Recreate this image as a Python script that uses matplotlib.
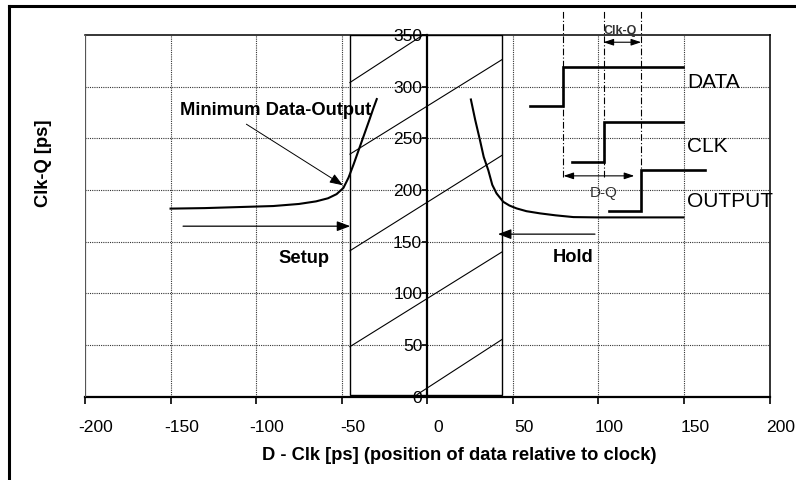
import matplotlib
matplotlib.use("Agg")
import matplotlib.pyplot as plt
from matplotlib.patches import Rectangle
from matplotlib.lines import Line2D
from matplotlib.transforms import ScaledTranslation

plt.rcParams['font.family'] = ['Liberation Sans', 'DejaVu Sans']

# ---- data ----
x_ticks = [-200, -150, -100, -50, 0, 50, 100, 150, 200]
y_ticks = [0, 50, 100, 150, 200, 250, 300, 350]

setup_x = [-150, -130, -110, -90, -75, -65, -58, -53, -49, -46, -43, -40, -37, -34, -31.5, -29.5]
setup_y = [182, 182.5, 183.5, 184.5, 186.5, 189, 192, 196, 202, 212, 225, 239, 253, 267, 279, 288]

hold_x = [25.5, 28, 30.8, 33, 35.7, 38, 40.5, 44.4, 48, 52.2, 58, 65.9, 75, 85.4, 100, 120, 149.7]
hold_y = [287.6, 268, 248.3, 232, 219, 205, 196.7, 188.6, 185, 182.2, 179.5, 177.4, 175.5, 173.8, 173.5, 173.5, 173.5]

# forbidden window (setup/hold)
window_x = [-45.2, 43.8]
window_y = [2, 350]
hatch_lines = [
    ([-6, 43.8], [2, 55.5]),
    ([-45.2, 43.8], [48.4, 140.2]),
    ([-45.2, 43.8], [141.2, 233.7]),
    ([-45.2, 43.8], [234.7, 326.3]),
    ([-45.2, -2.5], [304, 350]),
]

# timing diagram
data_wave_x = [59.8, 79.6, 79.6, 149.3]
data_wave_y = [281, 281, 319, 319]
clk_wave_x = [84.4, 103, 103, 149.3]
clk_wave_y = [226.7, 226.7, 265.4, 265.4]
out_wave_x = [106.4, 125, 125, 162.3]
out_wave_y = [179.9, 179.9, 219.2, 219.2]
edge_x = [79.6, 103, 125]
edge_y = [213, 374]

# ---- figure ----
fig = plt.figure(figsize=(7.96, 4.80), dpi=100)
ax = fig.add_axes([85/796, 1-396.7/480, (769.5-85)/796, (396.7-35)/480])
ax.set_xlim(-200, 200)
ax.set_ylim(0, 350)

ax.set_xticks(x_ticks)
ax.set_yticks(y_ticks)
ax.set_xticklabels([str(v) for v in x_ticks])
ax.set_yticklabels([str(v) for v in y_ticks])

# spines
ax.spines['left'].set_position(('data', 0))
ax.spines['left'].set_linewidth(1.6)
ax.spines['bottom'].set_linewidth(1.6)
ax.spines['top'].set_linewidth(1.1)
ax.spines['right'].set_linewidth(1.4)
ax.spines['right'].set_color('#333333')
ax.axvline(-200, color='#555555', lw=1.6, zorder=3)

# grid
for xv in x_ticks[1:-1]:
    if xv != 0:
        ax.axvline(xv, color='#333333', lw=0.8, ls=(0, (1, 1)), zorder=0)
for yv in y_ticks[1:-1]:
    ax.axhline(yv, color='#333333', lw=0.8, ls=(0, (1, 1)), zorder=0)

ax.tick_params(axis='x', direction='out', length=5, width=1.2, pad=12, labelsize=12.6)
ax.tick_params(axis='y', direction='out', length=3.6, width=1.2, pad=0, labelsize=12.6)
for lab in ax.get_xticklabels():
    lab.set_transform(lab.get_transform() + ScaledTranslation(0.11, 0, fig.dpi_scale_trans))

# window rectangle with diagonals
ax.add_patch(Rectangle((window_x[0], window_y[0]), window_x[1]-window_x[0], window_y[1]-window_y[0],
                       fill=False, edgecolor='black', lw=1.0, zorder=2))
for lx, ly in hatch_lines:
    ax.plot(lx, ly, color='black', lw=0.8, zorder=2)

# curves
ax.plot(setup_x, setup_y, color='black', lw=1.5, zorder=4)
ax.plot(hold_x, hold_y, color='black', lw=1.5, zorder=4)

# arrows
arrow_kw = dict(arrowstyle='-|>,head_length=0.8,head_width=0.3', color='black', lw=0.9,
                shrinkA=0, shrinkB=0)
ax.annotate('', xy=(-45, 165), xytext=(-142.7, 165), arrowprops=arrow_kw)
ax.annotate('', xy=(41.3, 157.3), xytext=(98, 157.3), arrowprops=arrow_kw)
ax.annotate('', xy=(-49.3, 204.6), xytext=(-105.7, 263.7),
            arrowprops=dict(arrowstyle='-|>,head_length=0.8,head_width=0.3', color='black',
                            lw=0.7, shrinkA=0, shrinkB=0))

# labels in plot
bold = dict(fontsize=13.2, fontweight='bold')
ax.text(-144.4, 277, 'Minimum Data-Output', ha='left', va='center', **bold)
ax.text(-72, 133.7, 'Setup', ha='center', va='center', **bold)
ax.text(85, 134.8, 'Hold', ha='center', va='center', **bold)

# timing diagram
for ex in edge_x:
    ax.plot([ex, ex], edge_y, color='black', lw=0.8, ls=(0, (6, 2, 1, 2)), clip_on=False, zorder=3)
ax.plot(data_wave_x, data_wave_y, color='black', lw=1.9, zorder=5, solid_joinstyle='miter')
ax.plot(clk_wave_x, clk_wave_y, color='black', lw=1.9, zorder=5, solid_joinstyle='miter')
ax.plot(out_wave_x, out_wave_y, color='black', lw=1.9, zorder=5, solid_joinstyle='miter')
ax.text(152, 303.7, 'DATA', ha='left', va='center', fontsize=15)
ax.text(151.5, 241.8, 'CLK', ha='left', va='center', fontsize=15)
ax.text(151.5, 188.6, 'OUTPUT', ha='left', va='center', fontsize=15)

dbl = dict(arrowstyle='<|-|>,head_length=0.6,head_width=0.2', color='black', lw=0.8,
           shrinkA=0, shrinkB=0)
ax.annotate('', xy=(125, 343), xytext=(103, 343), arrowprops=dbl, annotation_clip=False)
ax.annotate('', xy=(121, 213.7), xytext=(79.6, 213.7), arrowprops=dbl)
ax.text(113, 354, 'Clk-Q', ha='center', va='center', fontsize=9, fontweight='bold',
        color='#333333', clip_on=False)
ax.text(103, 196.7, 'D-Q', ha='center', va='center', fontsize=11, color='#333333')

# axis labels
fig.text(459/796, 1-455/480, 'D - Clk [ps] (position of data relative to clock)',
         ha='center', va='center', **bold)
fig.text(43/796, 1-163/480, 'Clk-Q [ps]', ha='center', va='center', rotation=90, **bold)

# outer frame
fig.add_artist(Line2D([8.7/796, 8.7/796], [0, 1-5.5/480], transform=fig.transFigure,
                      color='black', lw=2.2))
fig.add_artist(Line2D([8.7/796, 1], [1-5.5/480, 1-5.5/480], transform=fig.transFigure,
                      color='black', lw=2.2))

fig.savefig('out.png', dpi=100)
